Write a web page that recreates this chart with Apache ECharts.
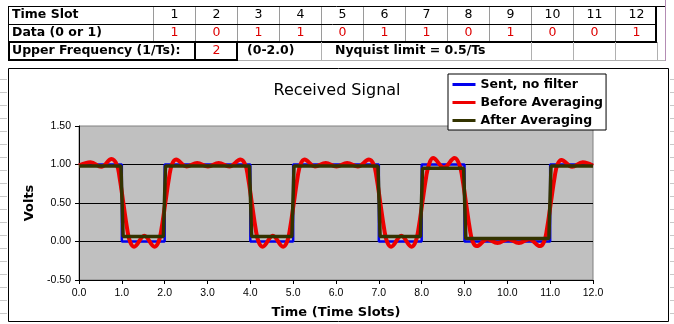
<!DOCTYPE html>
<html>
<head>
<meta charset="utf-8">
<script src="https://cdn.jsdelivr.net/npm/echarts@6/dist/echarts.min.js"></script>
<style>
html, body { margin: 0; padding: 0; background: #ffffff; }
#chart { width: 674px; height: 324px; }
</style>
</head>
<body>
<div id="chart"></div>
<script>
// ---- spreadsheet inputs ----
const rowLabels = ['Time Slot', 'Data (0 or 1)', 'Upper Frequency (1/Ts):'];
const timeSlots = [1, 2, 3, 4, 5, 6, 7, 8, 9, 10, 11, 12];
const dataBits = [1, 0, 1, 1, 0, 1, 1, 0, 1, 0, 0, 1];
const upperFrequency = 2;
const frequencyRange = '(0-2.0)';
const nyquistNote = 'Nyquist limit = 0.5/Ts';

// ---- chart text ----
const chartTitle = 'Received Signal';
const seriesNames = ['Sent, no filter', 'Before Averaging', 'After Averaging'];
const xAxisName = 'Time (Time Slots)';
const yAxisName = 'Volts';

// ---- signals: [time in slots, volts] ----
const sentSignal = [
  [0, 1], [1, 1], [1, 0], [2, 0], [2, 1], [4, 1], [4, 0], [5, 0], [5, 1],
  [7, 1], [7, 0], [8, 0], [8, 1], [9, 1], [9, 0], [11, 0], [11, 1], [12, 1]
];

const beforeAveraging = [
  [0, 0.985], [0.27, 1.03], [0.52, 0.97], [0.76, 1.07],
  [0.88, 1.0], [0.945, 0.84], [1.035, 0.5], [1.125, 0.16], [1.19, 0.0], [1.285, -0.068],
  [1.525, 0.075],
  [1.765, -0.068], [1.86, 0.0], [1.925, 0.16], [2.015, 0.5], [2.105, 0.84], [2.17, 1.0], [2.265, 1.065],
  [2.51, 0.975], [2.76, 1.02], [3.01, 0.975], [3.26, 1.02], [3.51, 0.975], [3.77, 1.065],
  [3.88, 1.0], [3.945, 0.84], [4.035, 0.5], [4.125, 0.16], [4.19, 0.0], [4.285, -0.068],
  [4.525, 0.075],
  [4.765, -0.068], [4.86, 0.0], [4.925, 0.16], [5.015, 0.5], [5.105, 0.84], [5.17, 1.0], [5.265, 1.065],
  [5.51, 0.975], [5.76, 1.02], [6.01, 0.975], [6.26, 1.02], [6.51, 0.975], [6.77, 1.065],
  [6.88, 1.0], [6.945, 0.84], [7.035, 0.5], [7.125, 0.16], [7.19, 0.0], [7.285, -0.068],
  [7.525, 0.075],
  [7.765, -0.068], [7.86, 0.0], [7.925, 0.16], [8.015, 0.5], [8.105, 0.84], [8.17, 1.0], [8.265, 1.085],
  [8.52, 0.96], [8.77, 1.085],
  [8.88, 1.0], [8.945, 0.84], [9.035, 0.5], [9.125, 0.16], [9.19, 0.0], [9.285, -0.06],
  [9.53, 0.03], [9.77, -0.02], [10.02, 0.03], [10.27, -0.02], [10.51, 0.03],
  [10.765, -0.06], [10.86, 0.0], [10.925, 0.16], [11.015, 0.5], [11.105, 0.84], [11.17, 1.0], [11.265, 1.06],
  [11.51, 0.97], [11.76, 1.03], [12, 0.985]
];

const afterAveraging = [
  [0, 0.98], [0.98, 0.98], [1.03, 0.065], [1.97, 0.065], [2.02, 0.98],
  [3.98, 0.98], [4.03, 0.065], [4.97, 0.065], [5.02, 0.98],
  [6.98, 0.98], [7.03, 0.065], [7.97, 0.065], [8.02, 0.95],
  [8.98, 0.95], [9.03, 0.04], [10.97, 0.04], [11.02, 0.98], [12, 0.98]
];

// ---- spreadsheet cells drawn around the chart ----
const BOLD = 'bold 12.5px "DejaVu Sans"';
const PLAIN = '12.5px "DejaVu Sans"';
const colEdges = [153, 195, 237, 279, 321, 363, 405, 447, 489, 531, 573, 615, 657];
const rowMid = [15, 33, 51];
const gfx = [];

function hline(x1, x2, y, stroke, w) {
  gfx.push({ type: 'line', silent: true, z: 10,
    shape: { x1: x1, y1: y, x2: x2, y2: y }, style: { stroke: stroke, lineWidth: w } });
}
function vline(x, y1, y2, stroke, w) {
  gfx.push({ type: 'line', silent: true, z: 10,
    shape: { x1: x, y1: y1, x2: x, y2: y2 }, style: { stroke: stroke, lineWidth: w } });
}
function cellText(text, x, y, font, fill, align) {
  gfx.push({ type: 'text', silent: true, z: 11, x: x, y: y,
    style: { text: String(text), font: font, fill: fill, align: align, verticalAlign: 'middle' } });
}

// faint worksheet gridlines outside the chart frame
for (let y = 79.5; y < 320; y += 13) {
  hline(0, 7, y, '#c8c8c8', 1);
  hline(670, 674, y, '#c8c8c8', 1);
}
vline(665.5, 0, 61, '#b48cb4', 1);

// rows 1-2 grid
colEdges.slice(0, 12).forEach(function (x) { vline(x + 0.5, 6, 42, '#9a9a9a', 1); });
hline(8, 665, 6.5, '#000', 1);
hline(8, 657, 24.5, '#000', 1);
vline(8.5, 6, 60, '#000', 1);
vline(656, 6, 43, '#000', 2);
hline(8, 657, 42, '#000', 2);

// row 3 cells
[321, 531, 573, 615, 657].forEach(function (x) { vline(x + 0.5, 42, 60, '#b0b0b0', 1); });
hline(237, 665, 60.5, '#b0b0b0', 1);
gfx.push({ type: 'rect', silent: true, z: 10, shape: { x: 9, y: 42, width: 186, height: 18 },
  style: { fill: 'none', stroke: '#000', lineWidth: 2 } });
gfx.push({ type: 'rect', silent: true, z: 10, shape: { x: 195, y: 42, width: 42, height: 18 },
  style: { fill: 'none', stroke: '#000', lineWidth: 2 } });

// labels and values
rowLabels.forEach(function (t, i) { cellText(t, 12, rowMid[i], BOLD, '#000', 'left'); });
timeSlots.forEach(function (v, i) {
  const cx = (colEdges[i] + colEdges[i + 1]) / 2 + 0.5;
  cellText(v, cx, rowMid[0], PLAIN, '#000', 'center');
  cellText(dataBits[i], cx, rowMid[1], PLAIN, '#dd0000', 'center');
});
cellText(upperFrequency, 216.5, rowMid[2], PLAIN, '#dd0000', 'center');
cellText(frequencyRange, 247, rowMid[2], BOLD, '#000', 'left');
cellText(nyquistNote, 335, rowMid[2], BOLD, '#000', 'left');

// chart frame
gfx.push({ type: 'rect', silent: true, z: 0, shape: { x: 8.5, y: 68.5, width: 660, height: 253 },
  style: { fill: 'none', stroke: '#000', lineWidth: 1 } });

// ---- chart ----
const chart = echarts.init(document.getElementById('chart'), null, { renderer: 'canvas' });

const axisFont = { fontFamily: 'Liberation Sans', fontSize: 10.5, color: '#000' };
const nameFont = { fontFamily: 'DejaVu Sans', fontWeight: 'bold', fontSize: 13, color: '#000' };

chart.setOption({
  animation: false,
  backgroundColor: '#ffffff',
  title: {
    text: chartTitle,
    left: 'center',
    top: 83,
    padding: 0,
    textStyle: { fontFamily: 'DejaVu Sans', fontWeight: 'normal', fontSize: 16, color: '#000' }
  },
  legend: {
    orient: 'vertical',
    left: 448,
    top: 74,
    itemWidth: 23,
    itemHeight: 14,
    itemGap: 5,
    padding: [4, 3, 3, 3],
    backgroundColor: '#ffffff',
    borderColor: '#000',
    borderWidth: 1,
    borderRadius: 0,
    z: 20,
    itemStyle: { opacity: 0 },
    lineStyle: { width: 3 },
    textStyle: { fontFamily: 'DejaVu Sans', fontWeight: 'bold', fontSize: 12.5, color: '#000' },
    data: seriesNames
  },
  grid: {
    left: 79, top: 126, width: 514, height: 154,
    show: true, backgroundColor: '#c0c0c0', borderColor: '#808080', borderWidth: 1,
    containLabel: false, outerBoundsMode: 'none'
  },
  xAxis: {
    type: 'value', min: 0, max: 12, interval: 1,
    name: xAxisName, nameLocation: 'middle', nameGap: 26, nameTextStyle: nameFont,
    axisLine: { show: true, onZero: false, lineStyle: { color: '#000', width: 1 } },
    axisTick: { show: true, length: 4, lineStyle: { color: '#000' } },
    axisLabel: Object.assign({ margin: 8, formatter: function (v) { return v.toFixed(1); } }, axisFont),
    splitLine: { show: false }
  },
  yAxis: {
    type: 'value', min: -0.5, max: 1.5, interval: 0.5,
    name: yAxisName, nameLocation: 'middle', nameGap: 41, nameRotate: 90, nameTextStyle: nameFont,
    axisLine: { show: true, onZero: false, lineStyle: { color: '#000', width: 1 } },
    axisTick: { show: true, length: 4, lineStyle: { color: '#000' } },
    axisLabel: Object.assign({ margin: 8, formatter: function (v) { return v.toFixed(2); } }, axisFont),
    splitLine: { show: true, showMinLine: false, showMaxLine: false, lineStyle: { color: '#000', width: 1 } }
  },
  series: [
    {
      name: seriesNames[0], type: 'line', data: sentSignal, symbol: 'none', z: 2,
      lineStyle: { color: '#0000ee', width: 2.5 }, itemStyle: { color: '#0000ee' }
    },
    {
      name: seriesNames[1], type: 'line', data: beforeAveraging, symbol: 'none', smooth: 0.4, z: 3,
      lineStyle: { color: '#ee0000', width: 4 }, itemStyle: { color: '#ee0000' }
    },
    {
      name: seriesNames[2], type: 'line', data: afterAveraging, symbol: 'none', z: 4,
      lineStyle: { color: '#333300', width: 3.5 }, itemStyle: { color: '#333300' }
    }
  ],
  graphic: gfx
});
</script>
</body>
</html>
